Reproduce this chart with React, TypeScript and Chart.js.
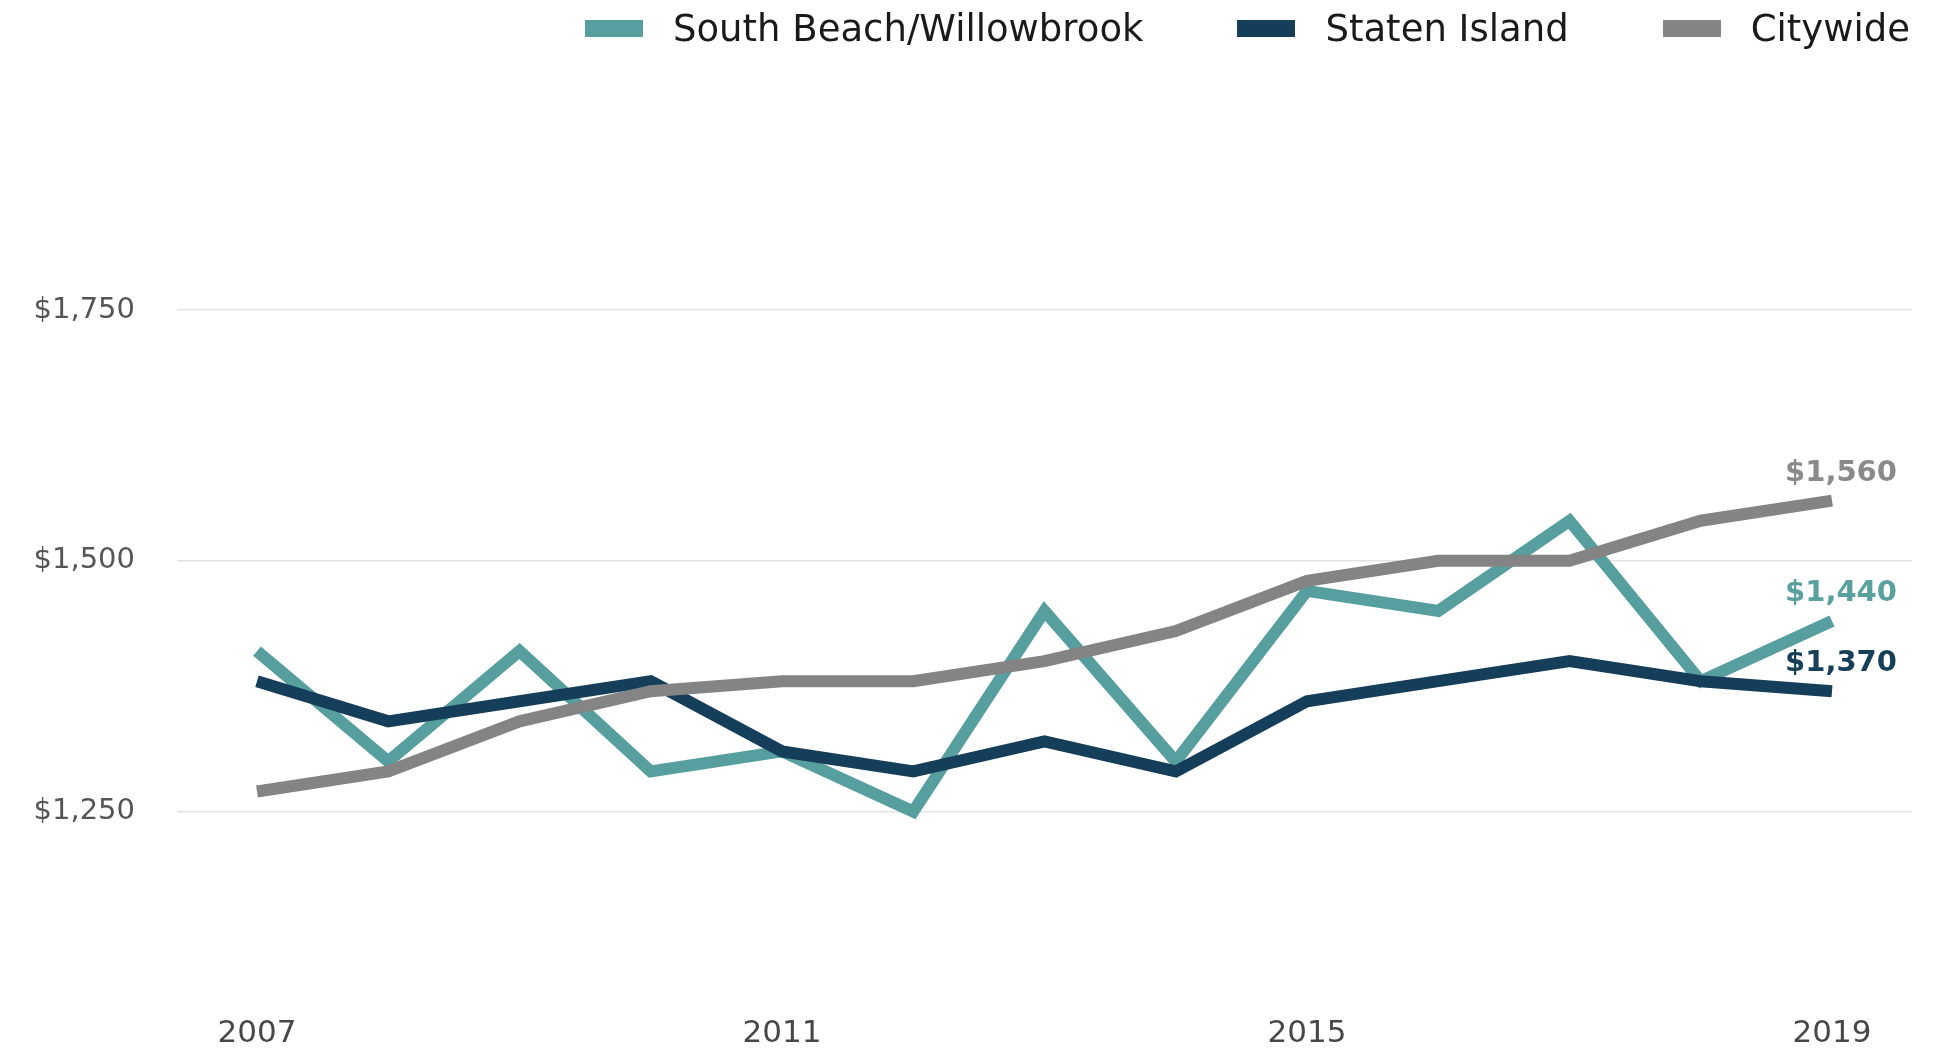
import React, { useEffect, useRef } from 'react';
import { Chart, registerables } from 'chart.js';

Chart.register(...registerables);

// ---- data ----
const years = [2007, 2008, 2009, 2010, 2011, 2012, 2013, 2014, 2015, 2016, 2017, 2018, 2019];
const southBeach = [1410, 1300, 1410, 1290, 1310, 1250, 1450, 1300, 1470, 1450, 1540, 1380, 1440];
const statenIsland = [1380, 1340, 1360, 1380, 1310, 1290, 1320, 1290, 1360, 1380, 1400, 1380, 1370];
const citywide = [1270, 1290, 1340, 1370, 1380, 1380, 1400, 1430, 1480, 1500, 1500, 1540, 1560];
const seriesNames = ['South Beach/Willowbrook', 'Staten Island', 'Citywide'];
const seriesValues = [southBeach, statenIsland, citywide];
const xTickYears = [2007, 2011, 2015, 2019];
const yTickValues = [1250, 1500, 1750];

// ---- styles ----
const lineColors = ['#579e9f', '#143e59', '#848484'];
const endLabelColors = ['#5aa09f', '#163f58', '#8a8a8a'];
const drawOrder = [2, 1, 0];

const fmtMoney = (v: number) => '$' + Number(v).toLocaleString('en-US');

const endLabelPlugin = {
  id: 'endLabels',
  afterDatasetsDraw(chart: any) {
    const ctx = chart.ctx;
    ctx.save();
    ctx.font = 'bold 29px "DejaVu Sans"';
    ctx.textAlign = 'center';
    ctx.textBaseline = 'alphabetic';
    chart.data.datasets.forEach((ds: any, i: number) => {
      const meta = chart.getDatasetMeta(i);
      const pts = meta.data;
      if (!pts || !pts.length) return;
      const last = pts[pts.length - 1];
      const val = ds.data[ds.data.length - 1].y;
      ctx.fillStyle = endLabelColors[i];
      ctx.fillText(fmtMoney(val), last.x + 9, last.y - 20);
    });
    ctx.restore();
  },
};

export default function App() {
  const canvasRef = useRef<HTMLCanvasElement | null>(null);

  useEffect(() => {
    const canvas = canvasRef.current;
    if (!canvas) return;
    const chart = new Chart(canvas, {
      type: 'line',
      data: {
        datasets: seriesNames.map((name, i) => ({
          label: name,
          data: years.map((yr, j) => ({ x: yr, y: seriesValues[i][j] })),
          borderColor: lineColors[i],
          backgroundColor: lineColors[i],
          borderWidth: 12,
          pointRadius: 0,
          pointHoverRadius: 0,
          tension: 0,
          fill: false,
          order: drawOrder[i],
          borderCapStyle: 'butt',
          borderJoinStyle: 'miter',
        })),
      },
      options: {
        animation: false,
        responsive: false,
        maintainAspectRatio: false,
        events: [],
        layout: { padding: { top: 56.5, right: 32, bottom: 0, left: 0 } },
        plugins: {
          legend: { display: false },
          tooltip: { enabled: false },
          title: { display: false },
        },
        scales: {
          x: {
            type: 'linear',
            min: 2006.3905,
            max: 2019.6095,
            afterBuildTicks: (scale: any) => {
              scale.ticks = xTickYears.map((v) => ({ value: v }));
            },
            afterFit: (scale: any) => {
              scale.height = 90;
            },
            grid: { display: false, drawTicks: false },
            border: { display: false },
            ticks: {
              padding: 53,
              maxRotation: 0,
              autoSkip: false,
              color: '#474747',
              font: { family: '"DejaVu Sans"', size: 31 },
              callback: (v: any) => String(v),
            },
          },
          y: {
            type: 'linear',
            min: 1100,
            max: 2000,
            afterBuildTicks: (scale: any) => {
              scale.ticks = yTickValues.map((v) => ({ value: v }));
            },
            afterFit: (scale: any) => {
              scale.width = 177;
            },
            grid: { color: '#e2e2e2', lineWidth: 1.5, drawTicks: false },
            border: { display: false },
            ticks: {
              padding: 42,
              color: '#555555',
              font: { family: '"DejaVu Sans"', size: 29 },
              callback: (v: any) => fmtMoney(v),
            },
          },
        },
      },
      plugins: [endLabelPlugin],
    } as any);
    return () => chart.destroy();
  }, []);

  return (
    <div style={{ position: 'fixed', left: 0, top: 0, width: 1944, height: 1052, background: '#ffffff', overflow: 'hidden' }}>
      <canvas ref={canvasRef} width={1944} height={1052} style={{ position: 'absolute', left: 0, top: 0, width: 1944, height: 1052 }} />
      <div
        style={{
          position: 'absolute',
          top: 10,
          right: 34,
          display: 'flex',
          alignItems: 'center',
          fontFamily: '"DejaVu Sans", sans-serif',
          fontSize: 37,
          lineHeight: '37px',
          color: '#1a1a1a',
          whiteSpace: 'nowrap',
        }}
      >
        {seriesNames.map((name, i) => (
          <div key={name} style={{ display: 'flex', alignItems: 'center', marginLeft: i === 0 ? 0 : 94 }}>
            <span style={{ display: 'block', width: 58, height: 17, background: lineColors[i], marginRight: 30 }} />
            <span style={{ display: 'block' }}>{name}</span>
          </div>
        ))}
      </div>
    </div>
  );
}
